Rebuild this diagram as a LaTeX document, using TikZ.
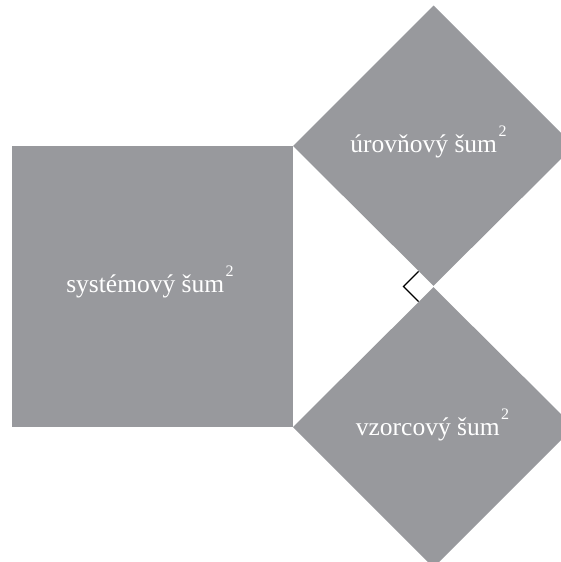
\documentclass[tikz,border=0pt]{standalone}
\usepackage{fontspec}
\setmainfont{Liberation Serif}
\usetikzlibrary{calc}
\definecolor{sqgray}{RGB}{152,153,157}
\tikzset{
  sq/.style={fill=sqgray},
  lab/.style={text=white, font=\fontsize{25.5}{30}\selectfont, inner sep=0pt, anchor=base},
  rightmark/.style={draw=black, line width=1.1pt}
}
\newcommand{\sqtwo}{\kern1.5pt\raisebox{0.6em}{\fontsize{16}{16}\selectfont 2}}
\begin{document}
\begin{tikzpicture}[x=1pt,y=-1pt]
\useasboundingbox (0,0) rectangle (561,562);
\clip (0,0) rectangle (561,562);
\coordinate (A) at (293,146);
\coordinate (B) at (293,427);
\coordinate (C) at (433.5,286.5);
\coordinate (Cu) at (433.5,285.8);
\coordinate (Cl) at (433.5,287.2);
\coordinate (Q1) at (12,146);
\coordinate (U1) at (574,146);
\coordinate (U2) at (433.5,5.5);
\coordinate (L1) at (574,427);
\coordinate (L2) at (433.5,567.5);
\fill[sq] (Q1) rectangle (B);
\fill[sq] (A) -- (Cu) -- (U1) -- (U2) -- cycle;
\fill[sq] (B) -- (Cl) -- (L1) -- (L2) -- cycle;
\node[lab] (sys) at (150,292) {systémový šum\sqtwo};
\node[lab] (urov) at (428.5,152) {úrovňový šum\sqtwo};
\node[lab] (vzor) at (432.5,435) {vzorcový šum\sqtwo};
\coordinate (M1) at ($(C)+(-15,-15)$);
\coordinate (M2) at ($(C)+(-30,0)$);
\coordinate (M3) at ($(C)+(-15,15)$);
\draw[rightmark] (M1) -- (M2) -- (M3);
\end{tikzpicture}
\end{document}
